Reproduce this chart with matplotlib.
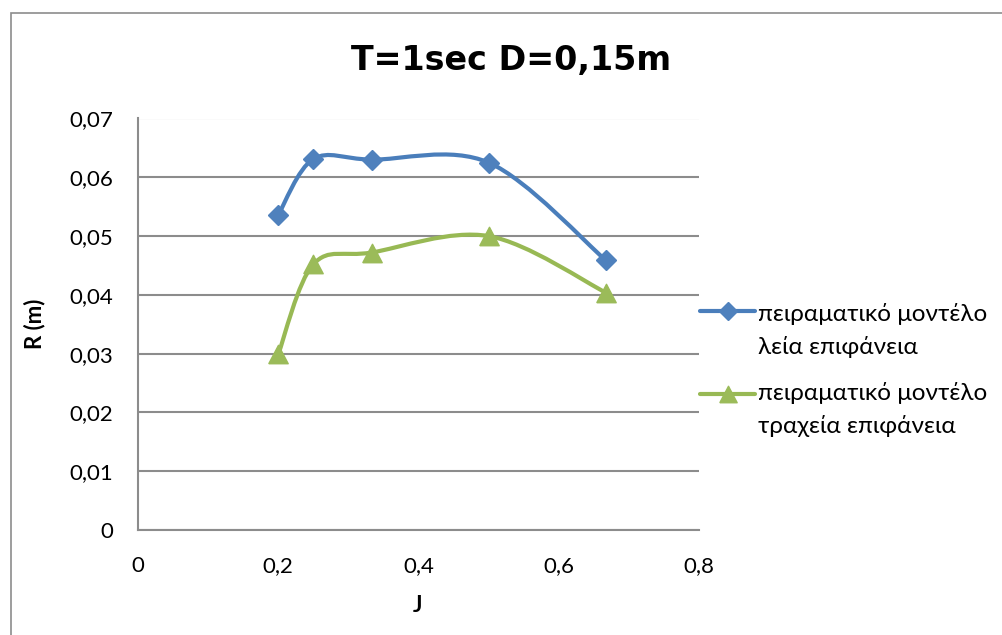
import numpy as np
import matplotlib
matplotlib.use("Agg")
import matplotlib.pyplot as plt
from matplotlib.path import Path
from matplotlib.patches import PathPatch, Rectangle
from matplotlib.lines import Line2D

plt.rcParams['font.family'] = ['Lato', 'DejaVu Sans']

# data
J = [0.2, 0.25, 0.333, 0.5, 0.667]
R_smooth = [0.0536, 0.0631, 0.0630, 0.0625, 0.0459]
R_rough = [0.0299, 0.0452, 0.0472, 0.0500, 0.0404]
series_labels = [["πειραματικό μοντέλο", "λεία επιφάνεια"],
                 ["πειραματικό μοντέλο", "τραχεία επιφάνεια"]]
title = "T=1sec D=0,15m"
xticks = [0, 0.2, 0.4, 0.6, 0.8]
yticks = [0, 0.01, 0.02, 0.03, 0.04, 0.05, 0.06, 0.07]

BLUE_LINE, BLUE_FILL = "#4A7EBB", "#4F81BD"
GREEN_LINE, GREEN_FILL = "#98B954", "#9BBB59"
GRID = "#8C8C8C"

W, H = 1003, 635
PX = 72 / 100  # points per pixel at 100 dpi
fig = plt.figure(figsize=(W / 100, H / 100), dpi=100)


def fx(px):
    return px / W


def fy(py):
    return 1 - py / H


# outer chart frame (left and top edges visible)
fig.patches.append(Rectangle((fx(11), fy(700)), fx(1100), fy(13) - fy(700),
                             transform=fig.transFigure, fill=False,
                             edgecolor="#8C8C8C", linewidth=1.2))

ax = fig.add_axes([fx(138), fy(530), fx(699) - fx(138), fy(118.5) - fy(530)])
ax.set_xlim(0, 0.8)
ax.set_ylim(0, 0.07)
ax.set_xticks(xticks)
ax.set_yticks(yticks)
ax.set_xticklabels([f"{t:g}".replace(".", ",") for t in xticks])
ax.set_yticklabels([f"{t:g}".replace(".", ",") for t in yticks])
ax.tick_params(length=0, labelsize=16, colors="black")
ax.tick_params(axis='y', pad=25 * PX)
ax.tick_params(axis='x', pad=26 * PX)
ax.yaxis.grid(True, color=GRID, linewidth=1.5)
ax.set_axisbelow(True)
for s in ["top", "right"]:
    ax.spines[s].set_visible(False)
for s in ["left", "bottom"]:
    ax.spines[s].set_color(GRID)
    ax.spines[s].set_linewidth(1.5)


def smooth_path(xs, ys):
    # Catmull-Rom style cubic Bezier through the points
    P = np.column_stack([xs, ys])
    n = len(P)
    verts = [P[0]]
    codes = [Path.MOVETO]
    for i in range(n - 1):
        prev = P[i - 1] if i > 0 else P[i]
        nxt = P[i + 2] if i + 2 < n else P[i + 1]
        c1 = P[i] + (P[i + 1] - prev) / 6
        c2 = P[i + 1] - (nxt - P[i]) / 6
        verts += [c1, c2, P[i + 1]]
        codes += [Path.CURVE4] * 3
    return Path(verts, codes)


tri = [(-1, -0.95), (1, -0.95), (0, 0.95), (-1, -0.95)]

for ys, lc, mc, mk, ms in [(R_smooth, BLUE_LINE, BLUE_FILL, "D", 10.0),
                           (R_rough, GREEN_LINE, GREEN_FILL, tri, 14.0)]:
    ax.add_patch(PathPatch(smooth_path(J, ys), facecolor="none", edgecolor=lc,
                           linewidth=3.0, capstyle="round", joinstyle="round",
                           zorder=3))
    ax.plot(J, ys, linestyle="none", marker=mk, markersize=ms,
            markerfacecolor=mc, markeredgecolor=mc, markeredgewidth=1,
            zorder=4, clip_on=False)

fig.text(fx(511), fy(70), title, ha="center", va="baseline",
         fontsize=24, fontweight="bold", family="DejaVu Sans")
fig.text(fx(418), fy(612), "J", ha="center", va="baseline",
         fontsize=16, fontweight="bold")
fig.text(fx(35), fy(324), "R (m)", ha="center", va="center",
         fontsize=16, fontweight="bold", rotation=90)

# legend
legend_rows = [(311, [321, 353.5], series_labels[0], BLUE_LINE, BLUE_FILL, "D", 9.0),
               (394, [400, 433], series_labels[1], GREEN_LINE, GREEN_FILL, tri, 12.5)]
for ly, baselines, lines, lc, mc, mk, ms in legend_rows:
    fig.add_artist(Line2D([fx(700), fx(755)], [fy(ly), fy(ly)],
                          color=lc, linewidth=3.0, solid_capstyle="round"))
    fig.add_artist(Line2D([fx(728)], [fy(ly)], linestyle="none", marker=mk,
                          markersize=ms, markerfacecolor=mc, markeredgecolor=mc))
    for b, txt in zip(baselines, lines):
        fig.text(fx(758), fy(b), txt, ha="left", va="baseline", fontsize=17.5)

fig.savefig("out.png", dpi=100)
